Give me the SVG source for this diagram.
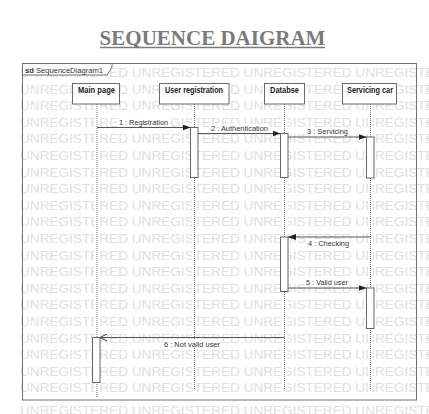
<svg xmlns="http://www.w3.org/2000/svg" width="429" height="414" viewBox="0 0 429 414">
<style>
.wm{font-family:"Liberation Sans",Arial,sans-serif;font-size:13.6px;fill:#e0e0e0}
.title{font-family:"Liberation Serif","Times New Roman",serif;font-size:21px;font-weight:bold;fill:#7a7a7a}
.frame{fill:none;stroke:#707070;stroke-width:1}
.tab{fill:#fff;stroke:#707070;stroke-width:1}
.box{fill:#fff;stroke:#6a6a6a;stroke-width:1}
.bt{font-family:"Liberation Sans",Arial,sans-serif;font-size:8.5px;font-weight:bold;fill:#222}
.lt{font-family:"Liberation Sans",Arial,sans-serif;font-size:8px;fill:#333}
.lifebg{stroke:#fff;stroke-width:5}
.life{stroke:#777;stroke-width:1;stroke-dasharray:1,1}
.act{fill:#fff;stroke:#666;stroke-width:1}
.msg{stroke:#555;stroke-width:1;fill:none}
.lbg{fill:#fff}
</style>
<defs>
<marker id="filled" viewBox="0 0 8 6" refX="8" refY="3" markerWidth="8" markerHeight="6" markerUnits="userSpaceOnUse" orient="auto">
<path d="M0,0 L8,3 L0,6 Z" fill="#222"/>
</marker>
<marker id="open" viewBox="0 0 8 8" refX="8" refY="4" markerWidth="8" markerHeight="8" markerUnits="userSpaceOnUse" orient="auto">
<path d="M1,0.5 L8,4 L1,7.5" fill="none" stroke="#444" stroke-width="1"/>
</marker>
</defs>
<rect width="429" height="414" fill="#fff"/>
<g id="watermark" class="wm">
<text x="20" y="76.9">UNREGISTERED UNREGISTERED UNREGISTERED UNREGISTERED</text>
<text x="20" y="93.5">UNREGISTERED UNREGISTERED UNREGISTERED UNREGISTERED</text>
<text x="20" y="110.1">UNREGISTERED UNREGISTERED UNREGISTERED UNREGISTERED</text>
<text x="20" y="126.7">UNREGISTERED UNREGISTERED UNREGISTERED UNREGISTERED</text>
<text x="20" y="143.3">UNREGISTERED UNREGISTERED UNREGISTERED UNREGISTERED</text>
<text x="20" y="159.9">UNREGISTERED UNREGISTERED UNREGISTERED UNREGISTERED</text>
<text x="20" y="176.5">UNREGISTERED UNREGISTERED UNREGISTERED UNREGISTERED</text>
<text x="20" y="193.1">UNREGISTERED UNREGISTERED UNREGISTERED UNREGISTERED</text>
<text x="20" y="209.7">UNREGISTERED UNREGISTERED UNREGISTERED UNREGISTERED</text>
<text x="20" y="226.3">UNREGISTERED UNREGISTERED UNREGISTERED UNREGISTERED</text>
<text x="20" y="242.9">UNREGISTERED UNREGISTERED UNREGISTERED UNREGISTERED</text>
<text x="20" y="259.5">UNREGISTERED UNREGISTERED UNREGISTERED UNREGISTERED</text>
<text x="20" y="276.1">UNREGISTERED UNREGISTERED UNREGISTERED UNREGISTERED</text>
<text x="20" y="292.7">UNREGISTERED UNREGISTERED UNREGISTERED UNREGISTERED</text>
<text x="20" y="309.3">UNREGISTERED UNREGISTERED UNREGISTERED UNREGISTERED</text>
<text x="20" y="325.9">UNREGISTERED UNREGISTERED UNREGISTERED UNREGISTERED</text>
<text x="20" y="342.5">UNREGISTERED UNREGISTERED UNREGISTERED UNREGISTERED</text>
<text x="20" y="359.1">UNREGISTERED UNREGISTERED UNREGISTERED UNREGISTERED</text>
<text x="20" y="375.7">UNREGISTERED UNREGISTERED UNREGISTERED UNREGISTERED</text>
<text x="20" y="392.3">UNREGISTERED UNREGISTERED UNREGISTERED UNREGISTERED</text>
<text x="20" y="415">UNREGISTERED UNREGISTERED UNREGISTERED UNREGISTERED</text>
</g>
<g id="title">
<text class="title" x="212.5" y="45" text-anchor="middle">SEQUENCE DAIGRAM</text>
<line x1="100" y1="47.5" x2="325" y2="47.5" stroke="#7a7a7a" stroke-width="1.5"/>
</g>
<g id="frame">
<rect class="frame" x="22.5" y="63.5" width="394" height="336.5"/>
<path class="tab" d="M22.5,63.5 H112 V67 L107,75 H22.5 Z"/>
<text class="lt" x="25" y="73" textLength="78" lengthAdjust="spacingAndGlyphs"><tspan font-weight="bold">sd</tspan> SequenceDiagram1</text>
</g>
<g id="main-page">
<line class="lifebg" x1="97" y1="104" x2="97" y2="397"/>
<line class="life" x1="97" y1="104" x2="97" y2="397"/>
<rect class="box" x="72.5" y="83.5" width="47" height="20.5"/>
<text class="bt" x="78" y="92.5" textLength="37" lengthAdjust="spacingAndGlyphs">Main page</text>
<rect class="act" x="92.5" y="337.5" width="7.5" height="45"/>
</g>
<g id="user-registration">
<line class="lifebg" x1="194.5" y1="104" x2="194.5" y2="390"/>
<line class="life" x1="194.5" y1="104" x2="194.5" y2="390"/>
<rect class="box" x="159.5" y="83.5" width="69.5" height="20.5"/>
<text class="bt" x="165" y="92.5" textLength="58" lengthAdjust="spacingAndGlyphs">User registration</text>
<rect class="act" x="190.5" y="127.5" width="7.5" height="50"/>
</g>
<g id="databse">
<line class="lifebg" x1="284.5" y1="104" x2="284.5" y2="390"/>
<line class="life" x1="284.5" y1="104" x2="284.5" y2="390"/>
<rect class="box" x="264.5" y="83.5" width="40" height="20.5"/>
<text class="bt" x="270" y="92.5" textLength="29" lengthAdjust="spacingAndGlyphs">Databse</text>
<rect class="act" x="280.5" y="133.5" width="7.5" height="44"/>
<rect class="act" x="280.5" y="237" width="7.5" height="54.5"/>
</g>
<g id="servicing-car">
<line class="lifebg" x1="370.5" y1="104" x2="370.5" y2="390"/>
<line class="life" x1="370.5" y1="104" x2="370.5" y2="390"/>
<rect class="box" x="342.5" y="83.5" width="54" height="20.5"/>
<text class="bt" x="347" y="92.5" textLength="46" lengthAdjust="spacingAndGlyphs">Servicing car</text>
<rect class="act" x="366.5" y="137" width="7.5" height="41"/>
<rect class="act" x="366.5" y="288" width="7.5" height="40.5"/>
</g>
<g id="connectors">
<rect class="lbg" x="118" y="118" width="51" height="9"/>
<line class="msg" x1="97" y1="127.5" x2="190.5" y2="127.5" marker-end="url(#filled)"/>
<text class="lt" x="119" y="124.5" textLength="49" lengthAdjust="spacingAndGlyphs">1 : Registration</text>
<rect class="lbg" x="210" y="124" width="59" height="9"/>
<line class="msg" x1="198" y1="133.5" x2="280.5" y2="133.5" marker-end="url(#filled)"/>
<text class="lt" x="211" y="130.5" textLength="57" lengthAdjust="spacingAndGlyphs">2 : Authentication</text>
<rect class="lbg" x="306" y="127.5" width="43" height="9"/>
<line class="msg" x1="288" y1="137" x2="366.5" y2="137" marker-end="url(#filled)"/>
<text class="lt" x="307" y="134" textLength="41" lengthAdjust="spacingAndGlyphs">3 : Servicing</text>
<rect class="lbg" x="307" y="239" width="43" height="9"/>
<line class="msg" x1="370.5" y1="237" x2="288" y2="237" marker-end="url(#filled)"/>
<text class="lt" x="308" y="246" textLength="41" lengthAdjust="spacingAndGlyphs">4 : Checking</text>
<rect class="lbg" x="305" y="278" width="44" height="9"/>
<line class="msg" x1="288" y1="288" x2="366.5" y2="288" marker-end="url(#filled)"/>
<text class="lt" x="306" y="284.5" textLength="42" lengthAdjust="spacingAndGlyphs">5 : Valid user</text>
<rect class="lbg" x="163" y="339" width="58" height="9"/>
<line class="msg" x1="284.5" y1="337.5" x2="100" y2="337.5" marker-end="url(#open)"/>
<text class="lt" x="164" y="346.5" textLength="56" lengthAdjust="spacingAndGlyphs">6 : Not valid user</text>
</g>
</svg>
